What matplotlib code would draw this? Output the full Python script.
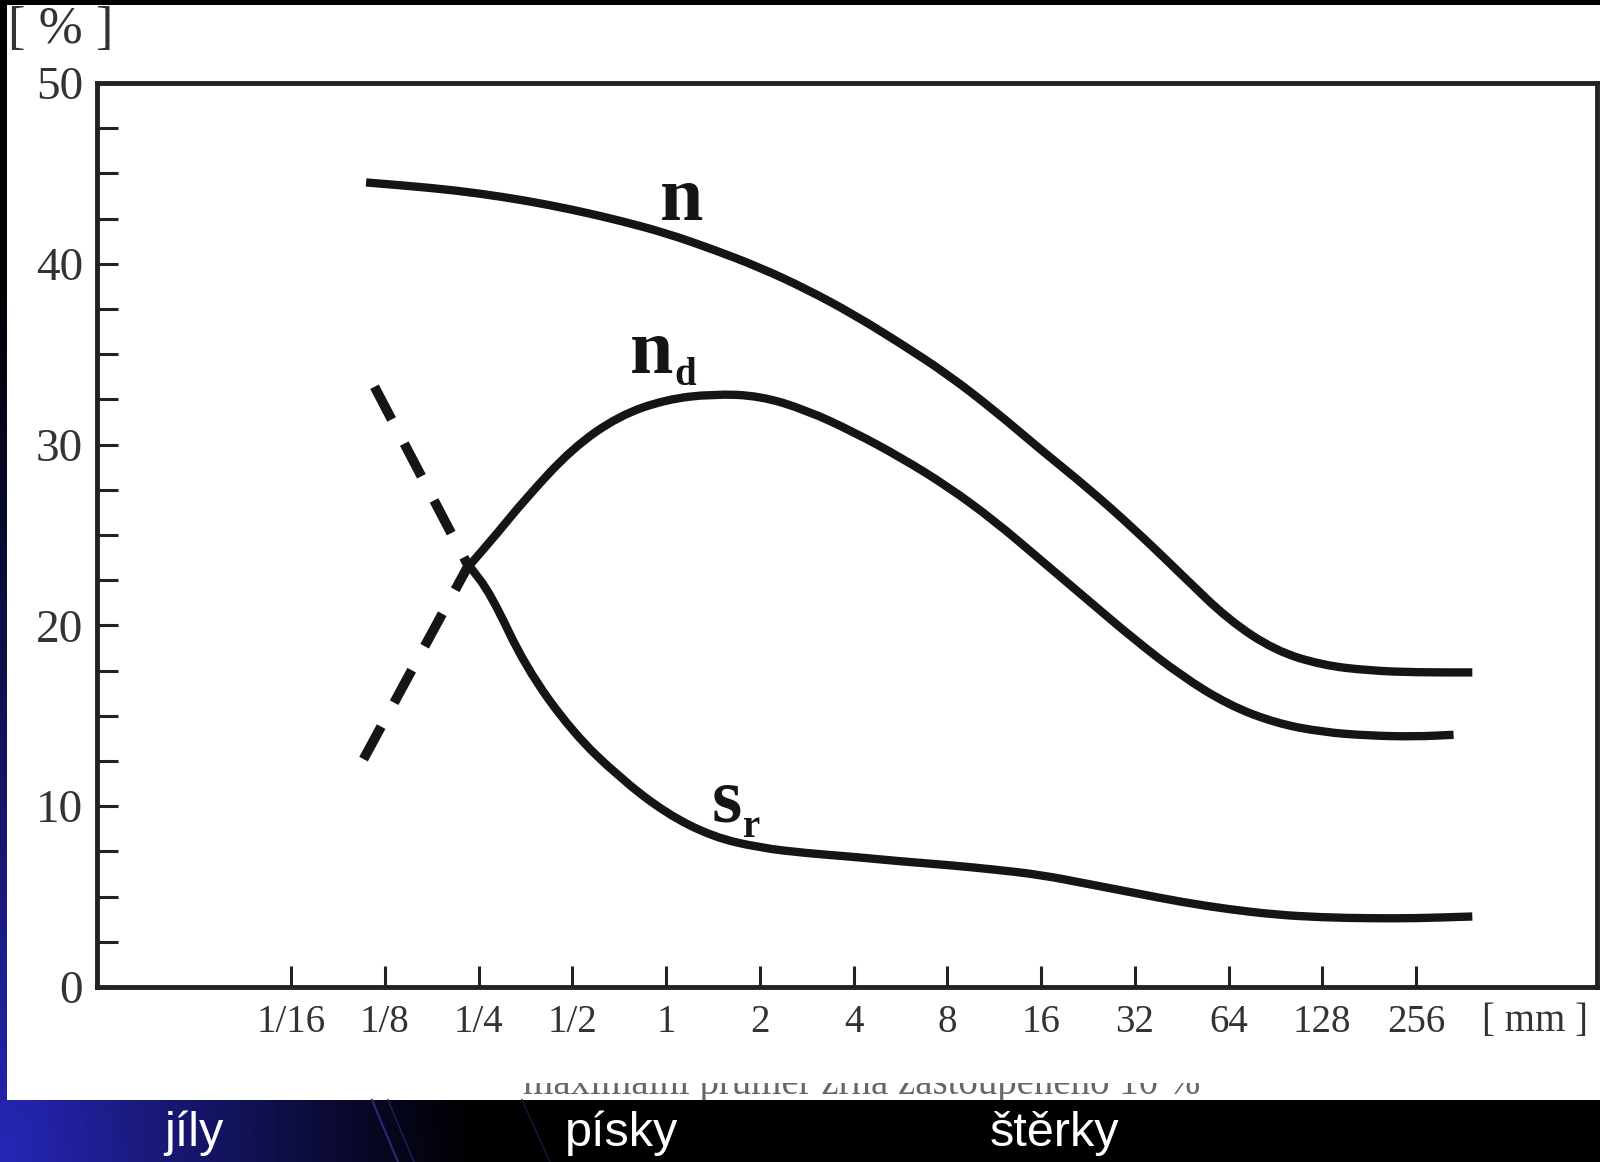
import numpy as np
import matplotlib.pyplot as plt
from matplotlib.path import Path
from matplotlib.patches import PathPatch
from matplotlib.transforms import Bbox, TransformedBbox

plt.rcParams['font.family'] = ['Liberation Serif', 'DejaVu Serif']

# grain size on a log2 scale (0 = 1 mm)
tick_pos = [-4, -3, -2, -1, 0, 1, 2, 3, 4, 5, 6, 7, 8]
tick_lab = ['1/16', '1/8', '1/4', '1/2', '1', '2', '4', '8', '16', '32', '64', '128', '256']

n_x = [-3.2, -2.5, -2.0, -1.5, -1.0, -0.5, 0.0, 0.5, 1.0, 1.5, 2.0, 2.5, 3.0, 3.5,
       4.0, 4.5, 5.0, 5.5, 6.0, 6.5, 7.0, 7.5, 8.0, 8.6]
n_y = [44.5, 44.2, 43.9, 43.5, 43.0, 42.4, 41.7, 40.8, 39.8, 38.6, 37.2, 35.6, 33.9, 31.9,
       29.7, 27.6, 25.3, 22.8, 20.3, 18.6, 17.8, 17.5, 17.4, 17.4]

nd_x = [-2.1, -1.8, -1.5, -1.0, -0.5, 0.0, 0.5, 1.0, 1.5, 2.0, 2.5, 3.0, 3.5, 4.0,
        4.5, 5.0, 5.5, 6.0, 6.5, 7.0, 7.5, 8.0, 8.4]
nd_y = [23.3, 25.1, 27.0, 29.8, 31.6, 32.5, 32.8, 32.7, 31.9, 30.7, 29.3, 27.7, 25.8, 23.6,
        21.4, 19.2, 17.2, 15.6, 14.6, 14.1, 13.9, 13.85, 13.95]

sr_x = [-2.1, -1.87, -1.5, -1.0, -0.5, 0.0, 0.5, 1.0, 1.5, 2.0, 2.5, 3.0, 3.5, 4.0,
        4.5, 5.0, 5.5, 6.0, 6.5, 7.0, 7.5, 8.0, 8.6]
sr_y = [23.3, 21.75, 17.7, 14.1, 11.6, 9.6, 8.3, 7.7, 7.4, 7.2, 6.95, 6.75, 6.5, 6.2,
        5.7, 5.2, 4.7, 4.3, 4.0, 3.85, 3.8, 3.8, 3.9]

dash_x = [-3.11, -2.11, -3.29]
dash_y = [33.2, 23.3, 12.0]

zones = ['jíly', 'písky', 'štěrky']
zone_px = [194, 622, 1054]

W, H = 1600, 1162


def curve(ax, xs, ys, **kw):
    # smooth line through the read points (quadratic Bezier between midpoints)
    pts = list(zip(xs, ys))
    verts = [pts[0], ((pts[0][0] + pts[1][0]) / 2, (pts[0][1] + pts[1][1]) / 2)]
    codes = [Path.MOVETO, Path.LINETO]
    for i in range(1, len(pts) - 1):
        nx_, ny_ = pts[i + 1]
        verts += [pts[i], ((pts[i][0] + nx_) / 2, (pts[i][1] + ny_) / 2)]
        codes += [Path.CURVE3, Path.CURVE3]
    verts.append(pts[-1])
    codes.append(Path.LINETO)
    ax.add_patch(PathPatch(Path(verts, codes), facecolor='none', **kw))


fig = plt.figure(figsize=(16, 11.62), dpi=100)
fig.patch.set_facecolor('black')

# slide background: black with a blue glow in the lower left
bg = fig.add_axes([0, 0, 1, 1])
gx, gy = np.meshgrid(np.linspace(0, W, 160), np.linspace(0, H, 117))
r = np.sqrt((gx / 480.0) ** 2 + ((H - gy) / 900.0) ** 2)
k = np.clip(1 - r, 0, 1) ** 1.1
img = np.dstack([0.15 * k, 0.15 * k, 0.72 * k])
bg.imshow(img, extent=[0, W, H, 0], aspect='auto', interpolation='bilinear')
bg.plot([372, 398], [1100, 1162], color='#2a2a70', lw=1.5)
bg.plot([388, 414], [1100, 1162], color='#1c1c50', lw=1.2)
bg.plot([522, 550], [1100, 1162], color='#14143c', lw=1.2)
bg.add_patch(plt.Rectangle((7, 5), W - 7, 1095, facecolor='white', edgecolor='none'))
bg.set_xlim(0, W)
bg.set_ylim(H, 0)
bg.axis('off')

ax = fig.add_axes([97 / W, (H - 987) / H, 1500 / W, 904 / H])
ax.set_facecolor('white')
ax.set_xlim(-6.07, 9.93)
ax.set_ylim(0, 50)

lc = '#151515'
for xs, ys in [(n_x, n_y), (nd_x, nd_y), (sr_x, sr_y)]:
    curve(ax, xs, ys, edgecolor=lc, lw=6, capstyle='butt', joinstyle='round')
ax.plot(dash_x, dash_y, color=lc, lw=7, dashes=(3.8, 2.8), dash_capstyle='butt')

ax.text(0.17, 42.4, 'n', fontsize=56, fontweight='bold', ha='center', va='baseline', color=lc)
ax.text(-0.15, 33.96, 'n', fontsize=56, fontweight='bold', ha='center', va='baseline', color=lc)
ax.text(0.20, 33.3, 'd', fontsize=28, fontweight='bold', ha='center', va='baseline', color=lc)
ax.text(0.65, 9.18, 's', fontsize=56, fontweight='bold', ha='center', va='baseline', color=lc)
ax.text(0.91, 8.3, 'r', fontsize=28, fontweight='bold', ha='center', va='baseline', color=lc)

for s in ax.spines.values():
    s.set_linewidth(3.5)
    s.set_color('#222222')

ax.set_xticks(tick_pos)
ax.set_xticklabels(tick_lab)
ax.set_yticks([0, 10, 20, 30, 40, 50])
ax.set_yticks(np.arange(0, 50, 2.5), minor=True)
ax.tick_params(axis='y', which='both', direction='in', length=15, width=2.2,
               color='#222222', labelsize=34, labelcolor='#333333', pad=10)
ax.tick_params(axis='x', which='both', direction='in', length=15, width=2.2,
               color='#222222', labelsize=28, labelcolor='#333333', pad=12)

fig.text(61 / W, (H - 30) / H, '[ % ]', fontsize=38, color='#333333', ha='center', va='center')
fig.text(1535 / W, (H - 1022) / H, '[ mm ]', fontsize=28, color='#333333', ha='center', va='center')

cap = fig.text(862 / W, (H - 1094) / H, 'maximální průměr zrna zastoupeného 10 %',
               fontsize=28, color='#666666', ha='center', va='baseline')
cap.set_clip_box(TransformedBbox(Bbox([[0, 62 / H], [1, 79 / H]]), fig.transFigure))
cap.set_clip_on(True)

for z, px in zip(zones, zone_px):
    fig.text(px / W, (H - 1133) / H, z, fontsize=35, color='white', ha='center', va='center',
             family=['Liberation Sans', 'DejaVu Sans'])

fig.savefig('out.png', dpi=100, facecolor=fig.get_facecolor())
